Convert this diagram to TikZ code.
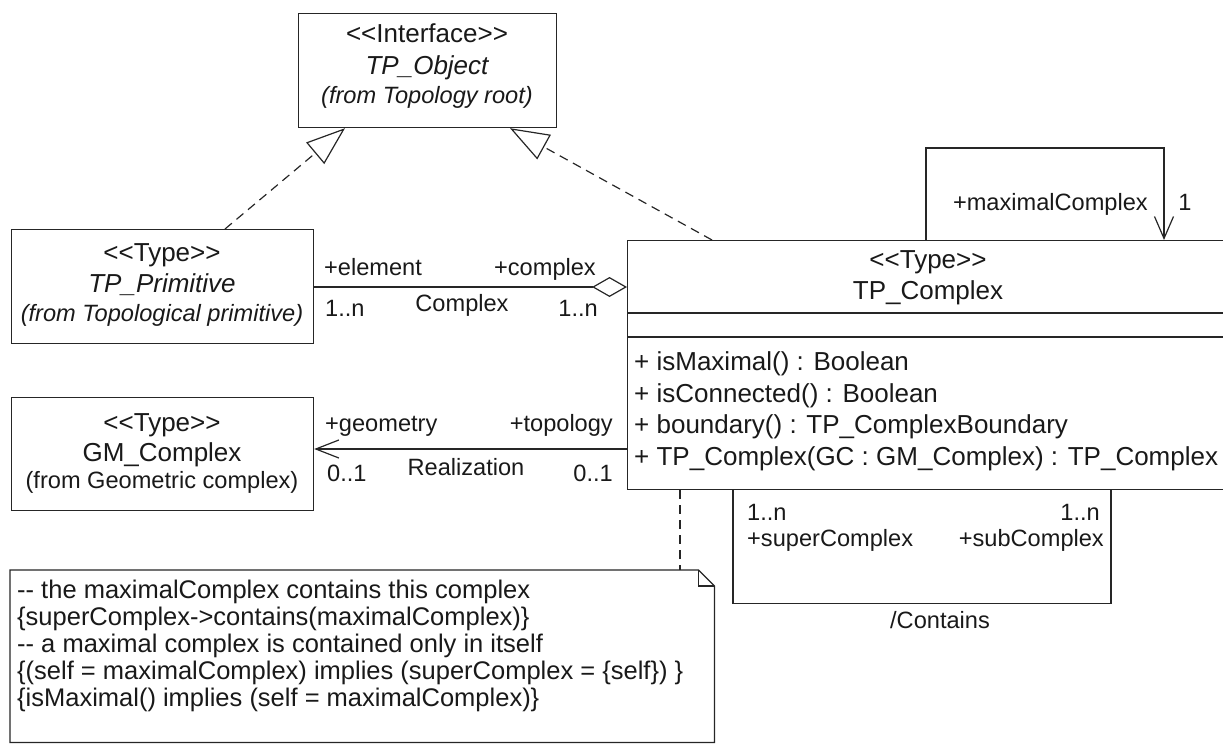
\documentclass[tikz,border=0pt]{standalone}
\usepackage{fontspec}
\newfontfamily\uml{Liberation Sans}[Ligatures=TeXOff]
\usetikzlibrary{arrows.meta,calc}
\tikzset{
  umlline/.style={line width=1.2pt, draw=black!85},
  box/.style={umlline, rectangle, inner sep=0pt, anchor=north west},
  clsbig/.style={font=\uml\fontsize{26}{30}\selectfont, text height=18.6pt, text depth=0pt, inner sep=0pt, text=black!90},
  lblsmall/.style={font=\uml\fontsize{23.6}{28}\selectfont, text height=16.9pt, text depth=0pt, inner sep=0pt, text=black!90},
  notetxt/.style={font=\uml\fontsize{25.5}{28}\selectfont, text height=18.2pt, text depth=0pt, inner sep=0pt, anchor=west, text=black!90},
  realize/.style={umlline, dash pattern=on 9pt off 6pt},
  gen/.style={realize, -{Triangle[open,length=39pt,width=28pt]}},
  navarrow/.style={umlline, -{Straight Barb[length=22pt,width=19pt]}},
  aggr/.style={umlline, {Diamond[open,length=35pt,width=20pt]}-}
}
\begin{document}
\begin{tikzpicture}[x=1pt,y=-1pt]
\useasboundingbox (0,0) rectangle (1223,744);
\clip (0,0) rectangle (1223,744);

% class boxes
\node[box, minimum width=258pt, minimum height=114pt] (tpo) at (298,13) {};
\node[box, minimum width=302pt, minimum height=114pt] (prim) at (11,229) {};
\node[box, minimum width=302pt, minimum height=113pt] (gm) at (11,397) {};
\node[box, minimum width=602pt, minimum height=249pt] (tpc) at (627,240) {};
\draw[umlline] ($(tpc.north west)+(0,73)$) -- ($(tpc.north east)+(0,73)$);
\draw[umlline] ($(tpc.north west)+(0,97)$) -- ($(tpc.north east)+(0,97)$);

% interface texts
\node[clsbig] (tpoA) at (427,33) {<<Interface>>};
\node[clsbig, font=\uml\itshape\fontsize{26}{30}\selectfont] (tpoB) at (427,65) {TP\_Object};
\node[lblsmall, font=\uml\itshape\fontsize{23.6}{28}\selectfont] (tpoC) at (427,95) {(from Topology root)};

% TP_Primitive texts
\node[clsbig] (primA) at (162,252) {<<Type>>};
\node[clsbig, font=\uml\itshape\fontsize{26}{30}\selectfont] (primB) at (162,283) {TP\_Primitive};
\node[lblsmall, font=\uml\itshape\fontsize{23.6}{28}\selectfont] (primC) at (162,313) {(from Topological primitive)};

% GM_Complex texts
\node[clsbig] (gmA) at (162,422) {<<Type>>};
\node[clsbig] (gmB) at (162,452) {GM\_Complex};
\node[lblsmall] (gmC) at (162,480) {(from Geometric complex)};

% TP_Complex texts
\node[clsbig] (tpcA) at (928,259) {<<Type>>};
\node[clsbig] (tpcB) at (928,290) {TP\_Complex};
\node[clsbig, anchor=west] (op1) at (634,361) {+ isMaximal() : Boolean};
\node[clsbig, anchor=west] (op2) at (634,393) {+ isConnected() : Boolean};
\node[clsbig, anchor=west] (op3) at (634,424) {+ boundary() : TP\_ComplexBoundary};
\node[clsbig, anchor=west] (op4) at (634,456) {+ TP\_Complex(GC : GM\_Complex) : TP\_Complex};

% generalizations
\coordinate (s1) at ($(prim.north west)+(214,0)$);
\coordinate (t1) at ($(tpo.south west)+(47,0)$);
\draw[gen] (s1) -- (t1);
\coordinate (s2) at ($(tpc.north west)+(85,0)$);
\coordinate (t2) at ($(tpo.south west)+(212,0)$);
\draw[gen] (s2) -- (t2);

% Complex aggregation
\coordinate (ca) at ($(tpc.north west)+(0,47)$);
\draw[aggr] (ca) -- (prim.east |- ca);
\node[lblsmall, anchor=west] (l1) at (324,267) {+element};
\node[lblsmall, anchor=east] (l2) at (596,267) {+complex};
\node[lblsmall, anchor=west] (l3) at (325,308) {1..n};
\node[lblsmall] (l4) at (462,303) {Complex};
\node[lblsmall, anchor=east] (l5) at (598,308) {1..n};

% Realization
\coordinate (ra) at ($(tpc.north west)+(0,209)$);
\draw[umlline, -{Straight Barb[length=23pt,width=18pt]}] (ra) -- (gm.east |- ra);
\node[lblsmall, anchor=west] (r1) at (325,423) {+geometry};
\node[lblsmall, anchor=east] (r2) at (613,423) {+topology};
\node[lblsmall, anchor=west] (r3) at (327,473) {0..1};
\node[lblsmall] (r4) at (466,467) {Realization};
\node[lblsmall, anchor=east] (r5) at (613,473) {0..1};

% self association maximalComplex
\coordinate (m1) at ($(tpc.north west)+(299,0)$);
\coordinate (m2) at ($(tpc.north west)+(537,0)$);
\draw[navarrow] (m1) -- ++(0,-92) -| (m2);
\node[lblsmall, anchor=east] (m3) at (1148,202) {+maximalComplex};
\node[lblsmall] (m4) at (1185,202) {1};

% Contains association
\coordinate (c1) at ($(tpc.south west)+(106,0)$);
\coordinate (c2) at ($(tpc.south west)+(484,0)$);
\draw[umlline] (c1) -- ++(0,113) -| (c2);
\node[lblsmall, anchor=west] (k1) at (747,512) {1..n};
\node[lblsmall, anchor=east] (k2) at (1100,512) {1..n};
\node[lblsmall, anchor=west] (k3) at (747,538) {+superComplex};
\node[lblsmall, anchor=east] (k4) at (1104,538) {+subComplex};
\node[lblsmall] (k5) at (940,620) {/Contains};

% note
\node[inner sep=0pt, minimum width=704pt, minimum height=172pt, anchor=north west] (note) at (10,570) {};
\draw[umlline] (note.north west) -- ($(note.north east)+(-16,0)$) -- ($(note.north east)+(0,16)$) -- (note.south east) -- (note.south west) -- cycle;
\draw[umlline] ($(note.north east)+(-16,0)$) |- ($(note.north east)+(0,16)$);
\coordinate (nc) at ($(tpc.south west)+(53,0)$);
\draw[realize] (nc) -- (nc |- note.north);
\node[notetxt] (n1) at (17,589) {-- the maximalComplex contains this complex};
\node[notetxt] (n2) at (17,616) {\{superComplex->contains(maximalComplex)\}};
\node[notetxt] (n3) at (17,643) {-- a maximal complex is contained only in itself};
\node[notetxt] (n4) at (17,670) {\{(self = maximalComplex) implies (superComplex = \{self\}) \}};
\node[notetxt] (n5) at (17,697) {\{isMaximal() implies (self = maximalComplex)\}};
\end{tikzpicture}
\end{document}
